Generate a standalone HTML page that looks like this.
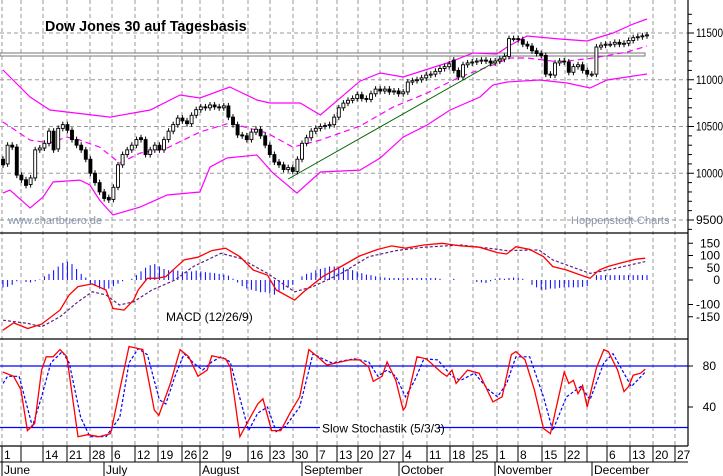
<!DOCTYPE html>
<html><head><meta charset="utf-8"><style>
html,body{margin:0;padding:0;background:#fff;}
svg{display:block;font-family:"Liberation Sans",Arial,sans-serif;}
</style></head><body>
<svg id="chart" width="723" height="476" viewBox="0 0 723 476" xmlns="http://www.w3.org/2000/svg">
<rect x="0" y="0" width="723" height="476" fill="#fff"/>
<g id="grid"></g>
<g id="main"></g>
<g id="macd"></g>
<g id="stoch"></g>
<g id="axes"></g>
<text x="45" y="31" font-size="14.3" font-weight="bold" fill="#000">Dow Jones 30 auf Tagesbasis</text>
<text x="8" y="224" font-size="11" fill="#8a96a8">www.chartbuero.de</text>
<text x="571" y="224" font-size="11" fill="#8a96a8">Hoppenstedt-Charts</text>
</svg>
<script>
// ---- data ----
const closes = [10090,10300,10280,9980,9930,9870,9950,10250,10270,10320,
10450,10250,10480,10520,10460,10360,10300,10250,10150,10000,
9900,9800,9730,9715,9850,10090,10200,10250,10300,10360,
10360,10200,10250,10300,10250,10360,10450,10520,10590,10560,
10530,10620,10680,10710,10700,10730,10710,10700,10720,10600,
10520,10410,10400,10360,10440,10470,10400,10300,10200,10120,
10090,10040,10060,10020,10150,10320,10380,10450,10480,10500,
10510,10520,10600,10700,10750,10780,10800,10840,10800,10790,
10850,10900,10880,10900,10870,10880,10850,10870,10975,10990,
11000,11020,11050,11060,11090,11120,11140,11170,11100,11030,
11160,11180,11190,11200,11210,11200,11180,11200,11220,11250,
11440,11440,11430,11380,11360,11310,11280,11260,11060,11050,
11180,11200,11190,11080,11140,11160,11100,11060,11060,11350,
11370,11380,11380,11400,11380,11390,11420,11450,11460,11470,11480];
const opens = [10150,10100,10300,10280,9980,9930,9880,9950,10250,10270,
10320,10450,10260,10480,10520,10460,10360,10300,10250,10150,
10000,9900,9800,9740,9720,9850,10090,10200,10250,10300,
10380,10360,10200,10250,10300,10250,10360,10450,10520,10590,
10560,10530,10620,10680,10710,10700,10730,10710,10700,10720,
10600,10520,10410,10400,10360,10440,10470,10400,10300,10200,
10120,10090,10040,10060,10020,10150,10320,10380,10450,10480,
10500,10510,10520,10600,10700,10750,10780,10800,10840,10800,
10790,10850,10900,10880,10900,10870,10880,10850,10870,10975,
10990,11000,11020,11050,11060,11090,11120,11140,11210,11100,
11030,11160,11180,11190,11200,11210,11200,11180,11200,11220,
11250,11440,11440,11430,11380,11360,11310,11280,11260,11060,
11050,11180,11200,11190,11080,11140,11160,11100,11060,11060,
11350,11370,11380,11380,11400,11380,11390,11420,11450,11460,11470];

const upperDays = [0,5.9,10.2,23.3,32,38.5,42.8,49.3,55.2,58,64.6,69,77.6,82,87,97.2,102.2,107.4,109.6,113.9,121,127,132.6,137,140];
const upperVals = [11104,10815,10676,10601,10676,10837,10805,10922,10783,10751,10751,10623,10986,11072,11029,11190,11286,11275,11350,11468,11436,11414,11500,11596,11650];
const midDays = [0,5.9,10.2,13.9,16.7,21,25.4,29.8,35.7,42.8,49.3,57.4,63,69,77.6,84.8,92.2,99.3,106.5,110.2,113.9,121,128.3,135.7,140];
const midVals = [10548,10355,10323,10387,10355,10280,10109,10216,10270,10441,10537,10430,10280,10355,10505,10708,10858,11029,11158,11233,11233,11190,11233,11297,11361];
const lowerDays = [0,1.5,5.9,8.7,10.9,16.7,18.9,21,23.9,29.8,35.7,42.8,45,48.7,55.2,58.7,63.9,69,77.6,82,87,92.2,97.2,103.7,106.5,109.6,116.7,122.6,127.6,131.3,135.7,140];
const lowerVals = [9788,9820,9628,9745,9906,9927,9874,9713,9553,9638,9767,9799,10066,10163,10195,10002,9788,10013,10034,10163,10387,10516,10676,10815,10944,10976,10997,10965,10912,10997,11029,11061];
const trendDays = [62,109.6];
const trendVals = [9938,11265];
const resistanceVal = 11270;

const macdDays = [0,2.3,5.4,8.4,12.4,14.4,16.3,19.4,22.4,23.9,26.3,28.4,29.4,31.4,33.4,35.4,37.4,39.4,42.4,45.4,48.4,51.5,54.4,57.5,59.4,63.4,65.4,69.5,73.5,77.5,81.5,84.5,87.5,91.5,95.5,99.5,103.5,107.5,109.5,111.5,114.5,117.5,119.5,122.5,125.6,127.6,129.6,131.5,134.6,137.6,139.6];
const macdVals = [-205,-175,-198,-180,-123,-61,-27,-16,-41,-116,-123,-82,-41,7,7,14,48,82,93,120,130,95,41,20,-41,-82,-48,14,55,98,125,139,130,143,150,139,134,112,106,136,125,95,55,41,20,7,41,55,71,85,89];
const signalDays = [0,5.4,8.4,12.4,16.3,19.4,22.4,25.3,28.4,32.4,37.4,41.4,47.4,51.5,57.5,63.4,67.4,73.5,79.5,85.5,91.5,99.5,105.5,109.5,116.5,119.5,127.6,131.5,139.6];
const signalVals = [-164,-177,-191,-150,-89,-48,-61,-102,-89,-41,0,55,109,89,27,-48,-27,27,95,120,134,143,130,120,123,82,27,41,75];
const histVals = [-30,-28,-20,-5,0,-8,-10,-5,2,15,25,40,55,70,75,65,45,25,10,-15,-25,-35,-40,-35,-25,-15,-5,0,5,20,
35,50,60,65,55,45,40,40,38,35,
33,35,38,35,32,30,28,25,22,18,
5,-10,-25,-35,-40,-45,-50,-50,-55,-60,
-45,-40,-30,-20,0,15,25,30,40,45,
50,55,55,55,50,45,40,35,28,22,
20,15,12,10,8,8,8,8,8,8,
8,8,8,8,8,5,0,0,5,0,
0,0,0,-8,-10,-12,-5,5,8,5,
8,10,10,5,0,-20,-30,-40,-40,-35,
-35,-32,-30,-30,-30,-30,-28,-25,0,20,
20,20,20,20,20,20,20,20,20,20,20];
const macdTicks = [150,100,50,0,-100,-150];

const kDays = [0,2.3,3.9,5.3,6.9,8.4,9.4,10.9,12.4,13.9,16.3,18.4,20.9,23.4,25.4,27.4,30.4,32.9,33.9,36.4,38.5,40.4,42.4,44.4,45.4,48.4,49.4,51.5,53.4,55.4,56.5,58.4,60.4,62.4,64.5,66.5,68.4,70.4,75.4,77.5,79.5,80.5,82.4,83.5,85.4,87,87.5,90,92,95.5,96.5,97.6,98.5,101,103.5,106.5,108.5,110.5,111.5,113.5,115.5,117.5,119,122,123,124,125,126,127,129,130.6,131.6,133.6,135,136,137,138.6,139.6];
const kVals = [74,70,57,17,24,76,89,89,96,89,11,13,11,14,57,99,96,37,32,63,96,89,70,76,90,87,79,11,27,43,48,17,17,34,50,96,89,81,86,86,79,65,70,84,66,37,40,89,87,73,70,76,63,76,73,45,50,91,94,86,57,19,14,74,63,66,53,61,40,78,96,94,76,55,60,71,73,77];
const dDays = [0,1,3.5,6.4,8.4,10.4,12.9,14.4,16.9,18.9,22.4,25.4,27.4,29.4,31.4,34,35.4,37.4,39.4,41.4,43.4,45.4,47.4,49.4,53.4,55.4,57.5,59.4,61.4,64.5,67.4,69.5,71.5,76.4,79.5,81.5,83.5,85.4,87.5,89.5,91.5,94.5,97.6,99.5,102.5,105.5,107.5,109.5,111.5,114.5,117.5,119.5,122.5,125.6,127.6,130.6,132.6,134.6,136.6,139.6];
const dVals = [63,70,70,21,50,83,94,83,30,11,11,30,83,97,91,47,43,70,92,83,76,84,89,84,17,34,40,16,21,40,92,87,83,87,84,70,76,70,50,66,87,86,70,66,73,57,50,63,89,89,50,17,50,60,47,83,92,76,60,74];
const stochTicks = [80,40];
const stochLevels = [80,20];

const priceTicks = [11500,11000,10500,10000,9500];
const weekX = [2,21,43,67,90,112,135,158,182,200,223,248,270,293,317,337,358,380,403,427,450,473,497,518,542,565,587,607,630,653,675];
const weekLabels = ['1','','14','21','28','6','12','19','26','2','9','16','23','30','7','13','20','27','4','11','18','25','1','8','15','22','','6','13','20','27'];
const monthX = [2,104,200,302,399,495,592];
const monthLabels = ['June','July','August','September','October','November','December'];

// ---- scales ----
const xDay = d => 3 + d*4.6;
const yMain = v => 33 + (11500-v)*0.0935;
const yMacd = v => 280 - v*0.245;
const yStoch = v => 366 + (80-v)*1.025;
const NS = 'http://www.w3.org/2000/svg';
function mk(parent, tag, attrs){ const e=document.createElementNS(NS,tag); for(const k in attrs) e.setAttribute(k,attrs[k]); parent.appendChild(e); return e; }
function pts(days, vals, yf){ return days.map((d,i)=>xDay(d).toFixed(1)+','+yf(vals[i]).toFixed(1)).join(' '); }
const G=document.getElementById('grid'), M=document.getElementById('main'), C=document.getElementById('macd'), S=document.getElementById('stoch'), A=document.getElementById('axes');
let e;

// grid
weekX.forEach((x,i)=>{
  e=mk(G,'line',{x1:x,x2:x,y1:0,y2:446,stroke:'#999','stroke-dasharray':'4,3','stroke-width':1});
  
  
});
priceTicks.forEach(v=>{
  e=mk(G,'line',{x1:0,x2:688,y1:yMain(v),y2:yMain(v),stroke:'#999','stroke-dasharray':'4,3','stroke-width':1});
  
  
});

// resistance
e=mk(M,'rect',{x:0,y:yMain(resistanceVal)-1.5,width:645,height:3,fill:'none',stroke:'#777','stroke-width':1});


// bands
[[upperDays,upperVals,'upper-bollinger-band',''],[midDays,midVals,'middle-bollinger-band','6,4'],[lowerDays,lowerVals,'lower-bollinger-band','']].forEach(b=>{
  e=mk(M,'polyline',{points:pts(b[0],b[1],yMain),fill:'none',stroke:'#f0f','stroke-width':1.2,'stroke-dasharray':b[3]});
  
  
});
e=mk(M,'polyline',{points:pts(trendDays,trendVals,yMain),fill:'none',stroke:'#006400','stroke-width':1});


// candles
closes.forEach((c,i)=>{
  const o=opens[i], x=xDay(i);
  const top=yMain(Math.max(o,c)), bot=yMain(Math.min(o,c));
  const w=mk(M,'line',{x1:x,x2:x,y1:top-3,y2:bot+3,stroke:'#000','stroke-width':1});
  
  
  e=mk(M,'rect',{x:x-1.5,y:top,width:3,height:Math.max(1,bot-top),fill:c>=o?'#fff':'#000',stroke:'#000','stroke-width':0.9});
  
  
});

// macd
histVals.forEach((h,i)=>{
  e=mk(C,'line',{x1:xDay(i),x2:xDay(i),y1:yMacd(0),y2:yMacd(h),stroke:'#00f','stroke-width':1});
  
  
});
e=mk(C,'polyline',{points:pts(signalDays,signalVals,yMacd),fill:'none',stroke:'#602080','stroke-width':1.2,'stroke-dasharray':'3,2'});


e=mk(C,'polyline',{points:pts(macdDays,macdVals,yMacd),fill:'none',stroke:'#f00','stroke-width':1.3});


e=mk(C,'text',{x:166,y:321,'font-size':12,fill:'#000'}); e.textContent='MACD (12/26/9)';



// stochastic
stochLevels.forEach(v=>{
  e=mk(S,'line',{x1:0,x2:688,y1:yStoch(v),y2:yStoch(v),stroke:'#00f','stroke-width':1.3});
  
  
});
e=mk(S,'polyline',{points:pts(dDays,dVals,yStoch),fill:'none',stroke:'#00f','stroke-width':1.2,'stroke-dasharray':'3,2'});


e=mk(S,'polyline',{points:pts(kDays,kVals,yStoch),fill:'none',stroke:'#f00','stroke-width':1.3});


e=mk(S,'rect',{x:320,y:yStoch(20)-7,width:118,height:14,fill:'#fff'});


e=mk(S,'text',{x:322,y:yStoch(20)+5,'font-size':12,fill:'#000'}); e.textContent='Slow Stochastik (5/3/3)';



// axes & panel borders
[233,339,446].forEach(y=>{
  e=mk(A,'line',{x1:0,x2:688,y1:y,y2:y,stroke:'#000','stroke-width':1.2});
  
  
});
e=mk(A,'line',{x1:688,x2:688,y1:0,y2:446,stroke:'#000','stroke-width':1.2});


for(let v=9400; v<=11700; v+=100){
  e=mk(A,'line',{x1:688,x2:v%500===0?694:692,y1:yMain(v),y2:yMain(v),stroke:'#000','stroke-width':1});
  
  
}
priceTicks.forEach(v=>{
  e=mk(A,'text',{x:696,y:yMain(v)+4,'font-size':12,fill:'#000',textLength:27,lengthAdjust:'spacingAndGlyphs'}); e.textContent=String(v);
  
  
});
macdTicks.forEach(v=>{
  e=mk(A,'text',{x:720,y:yMacd(v)+4,'font-size':12,fill:'#000','text-anchor':'end'}); e.textContent=String(v);
  
  
  const t=mk(A,'line',{x1:688,x2:693,y1:yMacd(v),y2:yMacd(v),stroke:'#000'});
  
  
});
stochTicks.forEach(v=>{
  e=mk(A,'text',{x:716,y:yStoch(v)+4,'font-size':12,fill:'#000','text-anchor':'end'}); e.textContent=String(v);
  
  
  const t=mk(A,'line',{x1:688,x2:693,y1:yStoch(v),y2:yStoch(v),stroke:'#000'});
  
  
});
// x axis
weekX.forEach((x,i)=>{
  e=mk(A,'line',{x1:x,x2:x,y1:446,y2:462,stroke:'#000','stroke-width':1});
  
  
  e=mk(A,'text',{x:x+2,y:459,'font-size':12,fill:'#000'}); e.textContent=weekLabels[i];
  
  
});
e=mk(A,'line',{x1:0,x2:688,y1:462,y2:462,stroke:'#000','stroke-width':1});


monthX.forEach((x,i)=>{
  e=mk(A,'line',{x1:x,x2:x,y1:462,y2:476,stroke:'#000','stroke-width':1});
  
  
  e=mk(A,'text',{x:x+2,y:474,'font-size':12,fill:'#000'}); e.textContent=monthLabels[i];
  
  
});
</script>
</body></html>
